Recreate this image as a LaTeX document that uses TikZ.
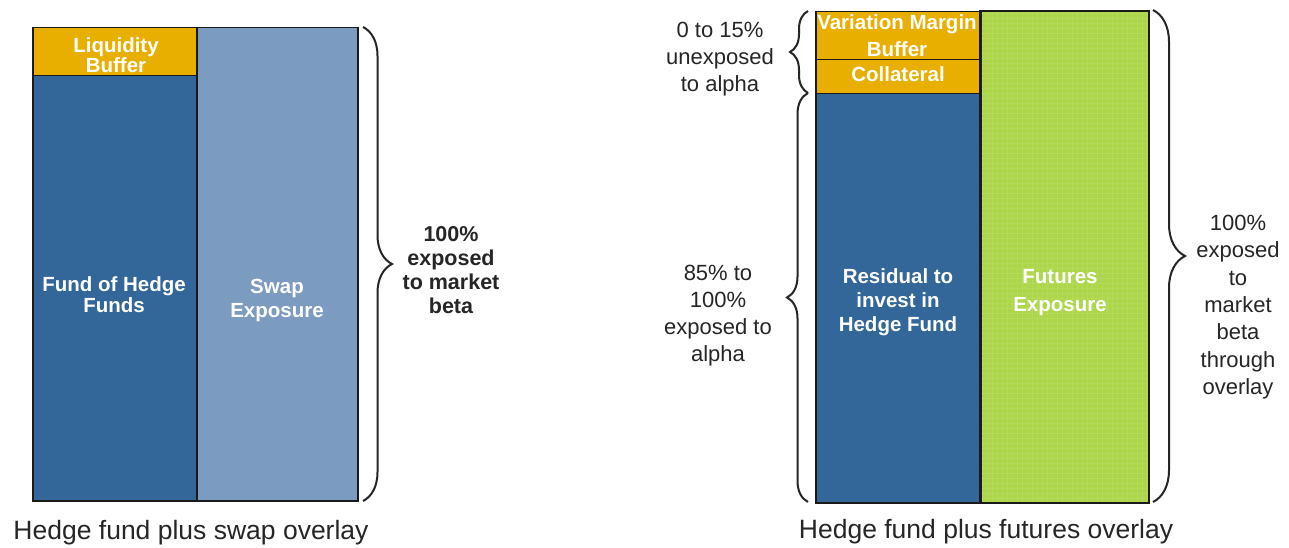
\documentclass[tikz,border=0pt]{standalone}
\usepackage{fontspec}
\setmainfont{Liberation Sans}
\usetikzlibrary{decorations.pathreplacing,calc}
\definecolor{gold}{HTML}{E8AF00}
\definecolor{dblue}{HTML}{336699}
\definecolor{lblue}{HTML}{7B9BC0}
\definecolor{lgreen}{HTML}{ADD64A}
\definecolor{edge}{HTML}{1A1A1A}
\begin{document}
\begin{tikzpicture}[x=1pt,y=-1pt,
  box/.style={draw=edge, line width=1.5pt, anchor=north west, inner sep=0pt},
  boxlabel/.style={text=white, font=\bfseries\fontsize{20.5}{21}\selectfont, align=center, inner sep=0pt},
  sidetext/.style={text=black!85, font=\fontsize{22}{27}\selectfont, align=center, inner sep=0pt},
  caption/.style={text=black!85, font=\fontsize{26.5}{28}\selectfont, inner sep=0pt},
  bracebig/.style={draw=black!85, line width=2pt, decorate, decoration={brace, amplitude=#1}},
]
\useasboundingbox[fill=white] (0,0) rectangle (1289,548);

% ---------- left panel ----------
\node[box, fill=gold, minimum width=164pt, minimum height=48pt] (liq) at (32,27) {};
\node[box, fill=dblue, minimum width=164pt, minimum height=425pt] (fof) at (32,75) {};
\node[box, fill=lblue, minimum width=161pt, minimum height=473pt] (swap) at (196,27) {};

\node[boxlabel, font=\bfseries\fontsize{20.5}{20}\selectfont] (liqt) at (116,55) {Liquidity\\Buffer};
\node[boxlabel] (foft) at (114,295) {Fund of Hedge\\Funds};
\node[boxlabel, font=\bfseries\fontsize{20.5}{24}\selectfont] (swapt) at (277,300) {Swap\\Exposure};

\coordinate (lbA) at (363,27);
\coordinate (lbB) at (363,501);
\draw[bracebig=29pt] (lbA) -- (lbB);
\node[sidetext, font=\bfseries\fontsize{21.5}{24}\selectfont] (lbeta) at (451,270) {100\%\\exposed\\to market\\beta};

\node[caption] (capL) at (191,533) {Hedge fund plus swap overlay};

% ---------- right panel ----------
\node[box, fill=gold, minimum width=165pt, minimum height=48pt] (vm) at (815,11) {};
\node[box, fill=gold, minimum width=165pt, minimum height=34pt] (coll) at (815,59) {};
\node[box, fill=dblue, minimum width=165pt, minimum height=409pt] (res) at (815,93) {};
\node[box, fill=lgreen, minimum width=168pt, minimum height=491pt] (fut) at (980,11) {};
\begin{scope}
  \clip (fut.north west) rectangle (fut.south east);
  \foreach \i in {0,...,34} {
    \draw[white, opacity=0.08, line width=0.8pt] ($(fut.north west)+(2+\i*5,0)$) -- ++(0,491);
  }
  \foreach \j in {0,...,98} {
    \draw[white, opacity=0.08, line width=0.8pt] ($(fut.north west)+(0,2+\j*5)$) -- ++(168,0);
  }
\end{scope}
\draw[edge, line width=1.5pt] (fut.north west) rectangle (fut.south east);

\node[boxlabel, font=\bfseries\fontsize{20.5}{27}\selectfont] (vmt) at (897,36) {Variation Margin\\Buffer};
\node[boxlabel] (collt) at (898,74) {Collateral};
\node[boxlabel, font=\bfseries\fontsize{20.5}{24}\selectfont] (rest) at (898,302) {Residual to\\invest in\\Hedge Fund};
\node[boxlabel, font=\bfseries\fontsize{20.5}{28}\selectfont] (futt) at (1060,293) {Futures\\Exposure};

\coordinate (sbA) at (808,93);
\coordinate (sbB) at (808,11);
\draw[bracebig=18pt] (sbA) -- (sbB);
\coordinate (bbA) at (808,502);
\draw[bracebig=21pt] (bbA) -- (sbA);

\coordinate (rbA) at (1153,10);
\coordinate (rbB) at (1153,502);
\draw[bracebig=32pt] (rbA) -- (rbB);

\node[sidetext] (unexp) at (720,59) {0 to 15\%\\unexposed\\to alpha};
\node[sidetext] (exp) at (718,316) {85\% to\\100\%\\exposed to\\alpha};
\node[sidetext, font=\fontsize{22}{27.3}\selectfont] (rbeta) at (1238,307) {100\%\\exposed\\to\\market\\beta\\through\\overlay};

\node[caption] (capR) at (986,532) {Hedge fund plus futures overlay};
\end{tikzpicture}
\end{document}
